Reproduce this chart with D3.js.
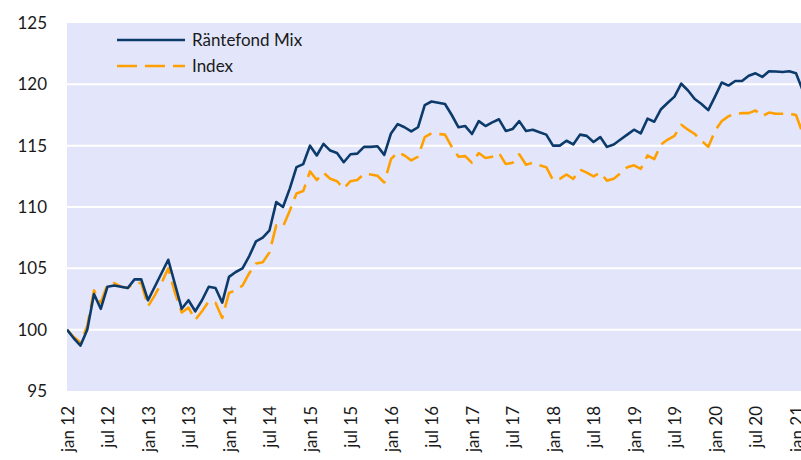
<!DOCTYPE html>
<html>
<head>
<meta charset="utf-8">
<script src="https://cdn.jsdelivr.net/npm/d3@7"></script>
<style>
  html, body { margin: 0; padding: 0; background: #ffffff; }
  svg { display: block; }
  text { font-family: Lato, "Open Sans", sans-serif; fill: #1a1a1a; }
</style>
</head>
<body>
<svg id="chart" width="801" height="460"></svg>
<script>
// Monthly index values, January 2012 to February 2021 (start = 100)
const fundValues = [
  100.0, 99.3, 98.7, 100.0, 102.9, 101.7, 103.5, 103.6, 103.5, 103.4, 104.1, 104.1,
  102.4, 103.5, 104.6, 105.7, 103.7, 101.7, 102.4, 101.5, 102.4, 103.5, 103.4, 102.2,
  104.3, 104.7, 105.0, 106.0, 107.2, 107.5, 108.1, 110.4, 110.0, 111.5, 113.25, 113.5,
  115.0, 114.2, 115.15, 114.6, 114.4, 113.65, 114.3, 114.35, 114.9, 114.9, 114.95, 114.25,
  116.0, 116.76, 116.5, 116.16, 116.5, 118.3, 118.6, 118.5, 118.4, 117.5, 116.5, 116.6,
  115.95, 117.0, 116.6, 116.9, 117.15, 116.2, 116.35, 117.0, 116.2, 116.3, 116.1, 115.9,
  115.0, 115.0, 115.4, 115.1, 115.9, 115.8, 115.3, 115.7, 114.9, 115.1, 115.5, 115.9,
  116.3, 116.0, 117.2, 116.95, 117.97, 118.5, 119.0, 120.05, 119.5, 118.8, 118.4, 117.9,
  119.0, 120.15, 119.9, 120.27, 120.27, 120.7, 120.9, 120.6, 121.06, 121.05, 121.0, 121.06,
  120.9, 119.5
];
const indexValues = [
  100.0, 99.4, 98.95, 100.3, 103.2, 102.2, 103.7, 103.8, 103.5, 103.4, 103.8, 103.8,
  101.9, 102.8, 103.8, 105.0, 103.0, 101.4, 101.8, 100.8, 101.5, 102.3, 102.2, 100.95,
  103.0, 103.2, 103.6, 104.6, 105.4, 105.5, 106.3, 108.5, 108.4, 109.7, 111.1, 111.3,
  112.9, 112.2, 112.8, 112.3, 112.1, 111.5, 112.1, 112.2, 112.7, 112.65, 112.55, 112.0,
  113.9, 114.46, 114.2, 113.8, 114.1, 115.7, 116.0, 115.95, 115.9, 114.9, 114.1, 114.15,
  113.6, 114.4, 114.0, 114.1, 114.4, 113.5, 113.6, 114.3, 113.45, 113.6, 113.4, 113.25,
  112.2, 112.3, 112.65, 112.3, 113.05, 112.8, 112.5, 112.8, 112.15, 112.3, 112.75, 113.25,
  113.4, 113.1, 114.2, 113.9, 115.1, 115.5, 115.8, 116.7, 116.3, 115.95, 115.4, 114.9,
  116.2, 117.0, 117.4, 117.6, 117.65, 117.65, 117.87, 117.4, 117.7, 117.6, 117.6, 117.6,
  117.5, 116.0
];
const seriesNames = ["Räntefond Mix", "Index"];
const xTickLabels = ["jan 12", "jul 12", "jan 13", "jul 13", "jan 14", "jul 14", "jan 15",
  "jul 15", "jan 16", "jul 16", "jan 17", "jul 17", "jan 18", "jul 18", "jan 19",
  "jul 19", "jan 20", "jul 20", "jan 21"];
const yTicks = [95, 100, 105, 110, 115, 120, 125];

const svg = d3.select("#chart");
const plot = { left: 67, right: 802.75, top: 23, bottom: 391 };

const x = d3.scaleLinear().domain([0, fundValues.length - 1]).range([plot.left, plot.right]);
const y = d3.scaleLinear().domain([95, 125]).range([plot.bottom, plot.top]);

// plot background
svg.append("rect")
  .attr("x", plot.left).attr("y", plot.top)
  .attr("width", 801 - plot.left).attr("height", plot.bottom - plot.top)
  .attr("fill", "#e3e6fb");

// white horizontal gridlines
svg.append("g").selectAll("line")
  .data(yTicks.filter(v => v > 95 && v < 125))
  .join("line")
  .attr("x1", plot.left).attr("x2", 801)
  .attr("y1", d => y(d)).attr("y2", d => y(d))
  .attr("stroke", "#ffffff").attr("stroke-width", 2);

// y axis labels
const yAxis = svg.append("g")
  .attr("transform", `translate(${plot.left - 20},0)`)
  .call(d3.axisLeft(y).tickValues(yTicks).tickSize(0).tickPadding(0).tickFormat(d3.format("d")));
yAxis.select(".domain").remove();
yAxis.selectAll("text")
  .style("font-family", "Lato, 'Open Sans', sans-serif")
  .style("font-size", "17px").attr("fill", "#1a1a1a");

// x axis labels, one per half year, rotated
const xAxis = svg.append("g")
  .attr("transform", `translate(0,${plot.bottom})`)
  .call(d3.axisBottom(x).tickValues(xTickLabels.map((_, i) => i * 6))
    .tickSize(0).tickFormat((d, i) => xTickLabels[i]));
xAxis.select(".domain").remove();
xAxis.selectAll("text")
  .style("font-family", "Lato, 'Open Sans', sans-serif")
  .style("font-size", "17px").attr("fill", "#1a1a1a")
  .attr("text-anchor", "end")
  .attr("transform", "rotate(-90)")
  .attr("x", -15).attr("y", 0).attr("dy", "0.36em");

const clip = svg.append("clipPath").attr("id", "plotclip")
  .append("rect").attr("x", plot.left).attr("y", plot.top)
  .attr("width", 801 - plot.left).attr("height", plot.bottom - plot.top);

const line = d3.line().x((d, i) => x(i)).y(d => y(d));

const lines = svg.append("g").attr("clip-path", "url(#plotclip)");
lines.append("path")
  .datum(indexValues)
  .attr("d", line)
  .attr("fill", "none")
  .attr("stroke", "#ffa000")
  .attr("stroke-width", 2.6)
  .attr("stroke-dasharray", "20,8")
  .attr("stroke-linejoin", "round");
lines.append("path")
  .datum(fundValues)
  .attr("d", line)
  .attr("fill", "none")
  .attr("stroke", "#0c3a6b")
  .attr("stroke-width", 2.6)
  .attr("stroke-linejoin", "round");

// legend
const legend = svg.append("g");
const legendItems = [
  { name: seriesNames[0], color: "#0c3a6b", dash: null, y: 40 },
  { name: seriesNames[1], color: "#ffa000", dash: "20,8", y: 66 }
];
legendItems.forEach(item => {
  legend.append("line")
    .attr("x1", 117).attr("x2", 185)
    .attr("y1", item.y).attr("y2", item.y)
    .attr("stroke", item.color).attr("stroke-width", 2.6)
    .attr("stroke-dasharray", item.dash);
  legend.append("text")
    .attr("x", 192).attr("y", item.y).attr("dy", "0.36em")
    .style("font-size", "17px")
    .text(item.name);
});
</script>
</body>
</html>
